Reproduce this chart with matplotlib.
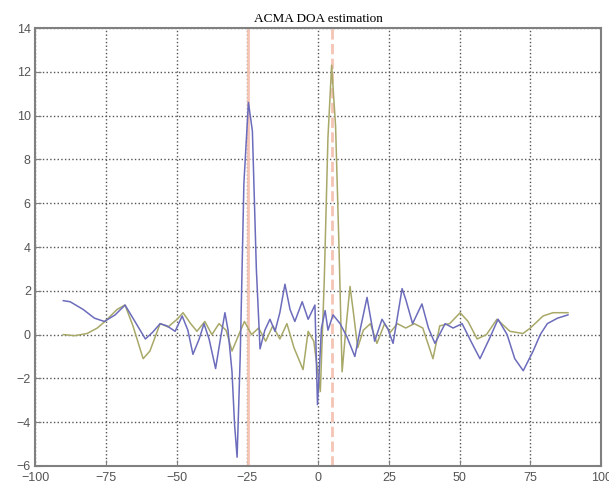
import matplotlib.pyplot as plt

# spatial spectrum of the two separated sources (angle in degrees)
blue_x = [-90, -87.6, -83, -79, -75.5, -71.7, -68.2, -65.4, -61, -58.5,
          -55.8, -53.4, -50.5, -48, -46, -44.2, -42, -40.3, -38.5, -36.2,
          -34.5, -32.9, -31.8, -30.4, -29.5, -28.6, -27.5, -26.2, -24.6, -23.2,
          -21.8, -20.5, -18.8, -17, -15.2, -13.5, -11.7, -9.9, -8.2, -5.6,
          -3.5, -1.1, -0.2, 1.2, 2.5, 3.5, 5.3, 7.8, 10.2, 13,
          15, 17.3, 20, 22.6, 24.7, 26.5, 29.7, 31, 33.4, 36.7,
          39, 41.3, 44.9, 47.7, 50.9, 54, 57.2, 60.5, 63.6, 66.8,
          69.5, 72.5, 76, 78.5, 81, 84.6, 88.3]
blue_y = [1.55, 1.5, 1.15, 0.75, 0.6, 0.9, 1.35, 0.75, -0.2, 0.1,
          0.5, 0.4, 0.15, 0.85, 0.2, -0.9, -0.2, 0.5, -0.2, -1.55,
          -0.2, 1.0, 0.2, -1.7, -4.1, -5.6, -1.0, 6.9, 10.6, 9.3,
          3.0, -0.65, 0.2, 0.7, 0.15, 1.0, 2.3, 1.15, 0.6, 1.5,
          0.7, 1.35, -3.2, 0.3, 1.1, 0.2, 0.9, 0.5, -0.1, -1.0,
          0.3, 1.7, -0.3, 0.7, 0.25, -0.4, 2.1, 1.6, 0.5, 1.4,
          0.3, -0.4, 0.5, 0.3, 0.5, -0.3, -1.1, -0.2, 0.7, 0.0,
          -1.1, -1.65, -0.75, 0.0, 0.5, 0.75, 0.9]

green_x = [-90, -86, -81.6, -78, -75.3, -71, -68.2, -65.4, -61.8, -59.4,
           -55.8, -53, -49.8, -47.7, -45, -42.8, -40, -37.5, -35, -32.5,
           -30.4, -28, -26, -23.5, -21, -18.5, -16, -13.5, -11, -8.5,
           -5.3, -3.5, -1.5, 0.8, 2.2, 3.5, 4.8, 6.2, 7.4, 8.5,
           10, 11.3, 12.5, 14, 16, 18.5, 20.8, 23.5, 25.5, 28,
           31, 34, 37, 40.6, 43, 46.5, 50.2, 53, 56.2, 59.5,
           63.2, 67.8, 72.4, 75, 79.5, 83, 88.3]
green_y = [0.0, -0.05, 0.05, 0.3, 0.6, 1.15, 1.35, 0.4, -1.1, -0.75,
           0.5, 0.35, 0.7, 1.0, 0.5, 0.15, 0.6, 0.0, 0.5, 0.2,
           -0.75, 0.0, 0.6, 0.0, 0.3, -0.3, 0.4, -0.2, 0.5, -0.6,
           -1.6, 0.15, -0.3, -2.6, 2.5, 9.0, 12.3, 9.5, 4.0, -1.7,
           0.5, 2.2, 1.0, -0.6, 0.2, 0.5, -0.4, 0.5, 0.1, 0.5,
           0.3, 0.5, 0.3, -1.1, 0.4, 0.5, 1.0, 0.6, -0.2, 0.0,
           0.7, 0.15, 0.05, 0.3, 0.85, 1.0, 1.0]

# true directions of arrival
true_doa = [-24.7, 5]
doa_styles = ["-", "--"]

x_ticks = [-100, -75, -50, -25, 0, 25, 50, 75, 100]
y_ticks = [-6, -4, -2, 0, 2, 4, 6, 8, 10, 12, 14]

fig = plt.figure(figsize=(6.09, 4.95), dpi=100)
ax = fig.add_axes([0.0575, 0.0586, 0.9295, 0.8848])

ax.set_xlim(-100, 100)
ax.set_ylim(-6, 14)
ax.set_xticks(x_ticks)
ax.set_yticks(y_ticks)
ax.grid(True, ls=":", color="#555555", lw=1.0, zorder=1)

# reference markers sit above the grid, below the spectra
for doa, ls in zip(true_doa, doa_styles):
    ax.axvline(doa, color="#f4c4b4", lw=2.0, ls=ls, zorder=2)

ax.plot(blue_x, blue_y, color="#6c6cbc", lw=1.1, zorder=4)
ax.plot(green_x, green_y, color="#a8a868", lw=1.1, zorder=3)

for side in ax.spines.values():
    side.set_color("#808080")
    side.set_linewidth(1.5)

ax.tick_params(direction="in", length=4, color="#808080",
               labelcolor="#555555", labelsize=9)
for lab in ax.get_xticklabels() + ax.get_yticklabels():
    lab.set_family("Liberation Sans")
ax.tick_params(axis="y", pad=3)
ax.tick_params(axis="x", pad=4)

ax.set_title("ACMA DOA estimation", family="Liberation Serif",
             fontsize=9.5, pad=4)

fig.savefig("out.png", dpi=100)
